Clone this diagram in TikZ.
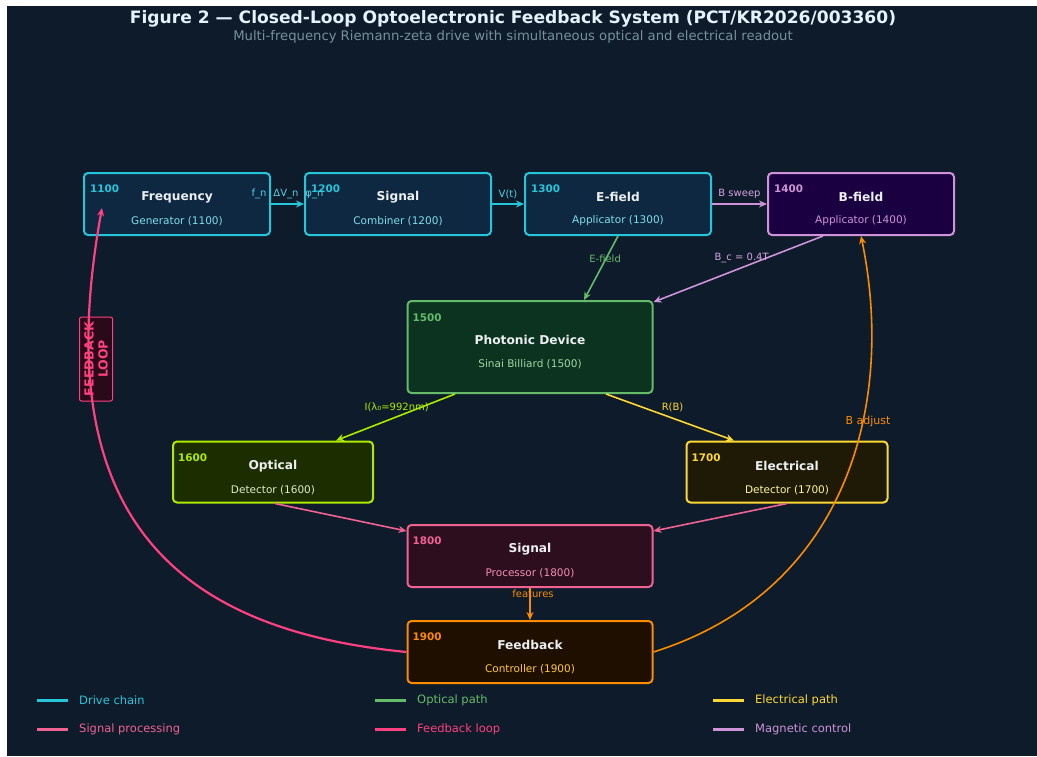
\documentclass[tikz,border=0pt]{standalone}
\usepackage{fontspec}
\setmainfont{DejaVu Sans}
\usetikzlibrary{arrows.meta}

\definecolor{bgnavy}{HTML}{0D1B2A}
\definecolor{titlewhite}{HTML}{E3F2FD}
\definecolor{subgrey}{HTML}{78909C}
\definecolor{boxwhite}{HTML}{ECEFF1}
\definecolor{drivecyan}{HTML}{26C6DA}
\definecolor{drivefill}{HTML}{0D2840}
\definecolor{drivesub}{HTML}{80DEEA}
\definecolor{magviolet}{HTML}{CE93D8}
\definecolor{magfill}{HTML}{1A0040}
\definecolor{optgreen}{HTML}{66BB6A}
\definecolor{devfill}{HTML}{0B3320}
\definecolor{devsub}{HTML}{A5D6A7}
\definecolor{optlime}{HTML}{AEEA00}
\definecolor{optfill}{HTML}{1C2E00}
\definecolor{optsub}{HTML}{DCEDC8}
\definecolor{elecyellow}{HTML}{FDD835}
\definecolor{elecfill}{HTML}{1E1A05}
\definecolor{elecsub}{HTML}{FFF59D}
\definecolor{procpink}{HTML}{F06292}
\definecolor{procfill}{HTML}{2C0E1E}
\definecolor{procsub}{HTML}{F48FB1}
\definecolor{ctrlorange}{HTML}{FB8C00}
\definecolor{ctrlfill}{HTML}{1E0F00}
\definecolor{ctrlsub}{HTML}{FFCA28}
\definecolor{looppink}{HTML}{FF4081}
\definecolor{loopfill}{HTML}{2A0A18}

\tikzset{
  blk/.style={draw, line width=2pt, rounded corners=4pt, inner sep=0pt},
  num/.style={anchor=west, inner sep=0pt, font=\fontsize{10.4}{12}\selectfont\bfseries},
  ttl/.style={inner sep=0pt, text=boxwhite, font=\fontsize{12.2}{14}\selectfont\bfseries},
  sub/.style={inner sep=0pt, font=\fontsize{10.5}{12}\selectfont},
  lbl/.style={inner sep=0pt, font=\fontsize{10}{12}\selectfont},
  link/.style={line width=1.6pt, -{Stealth[length=8pt,width=7pt]}},
  legline/.style={line width=3pt},
  legtxt/.style={anchor=west, inner sep=0pt, font=\fontsize{11.5}{13}\selectfont},
}

\begin{document}
\begin{tikzpicture}[x=1pt,y=-1pt]
  % Page and background
  \useasboundingbox (0,0) rectangle (1037,756);
  \fill[white] (0,0) rectangle (1037,756);
  \fill[bgnavy] (7,6) rectangle (1037,756);

  % Title
  \node[inner sep=0pt, text=titlewhite, font=\fontsize{17.1}{19}\selectfont\bfseries] (title) at (513,19)
    {Figure 2 — Closed-Loop Optoelectronic Feedback System (PCT/KR2026/003360)};
  \node[inner sep=0pt, text=subgrey, font=\fontsize{13.2}{15}\selectfont] (subtitle) at (513,37)
    {Multi-frequency Riemann-zeta drive with simultaneous optical and electrical readout};

  % Frequency generator
  \node[blk, draw=drivecyan, fill=drivefill, minimum width=186pt, minimum height=62pt] (freq) at (177,204) {};
  \node[num, text=drivecyan] (freq-n) at ([xshift=7pt,yshift=-17pt]freq.north west) {1100};
  \node[ttl] (freq-t) at ([yshift=7pt]freq.center) {Frequency};
  \node[sub, text=drivesub] (freq-s) at ([yshift=-17pt]freq.center) {Generator (1100)};

  % Signal combiner
  \node[blk, draw=drivecyan, fill=drivefill, minimum width=186pt, minimum height=62pt] (comb) at (398,204) {};
  \node[num, text=drivecyan] (comb-n) at ([xshift=7pt,yshift=-17pt]comb.north west) {1200};
  \node[ttl] (comb-t) at ([yshift=7pt]comb.center) {Signal};
  \node[sub, text=drivesub] (comb-s) at ([yshift=-17pt]comb.center) {Combiner (1200)};

  % E-field applicator
  \node[blk, draw=drivecyan, fill=drivefill, minimum width=186pt, minimum height=62pt] (efield) at (618,204) {};
  \node[num, text=drivecyan] (efield-n) at ([xshift=7pt,yshift=-17pt]efield.north west) {1300};
  \node[ttl] (efield-t) at ([yshift=7pt]efield.center) {E-field};
  \node[sub, text=drivesub] (efield-s) at ([yshift=-17pt]efield.center) {Applicator (1300)};

  % B-field applicator
  \node[blk, draw=magviolet, fill=magfill, minimum width=186pt, minimum height=62pt] (bfield) at (861,204) {};
  \node[num, text=magviolet] (bfield-n) at ([xshift=7pt,yshift=-17pt]bfield.north west) {1400};
  \node[ttl] (bfield-t) at ([yshift=7pt]bfield.center) {B-field};
  \node[sub, text=magviolet] (bfield-s) at ([yshift=-17pt]bfield.center) {Applicator (1400)};

  % Photonic device
  \node[blk, draw=optgreen, fill=devfill, minimum width=245pt, minimum height=92pt] (device) at (530,347) {};
  \node[num, text=optgreen] (device-n) at ([xshift=6pt,yshift=-18pt]device.north west) {1500};
  \node[ttl] (device-t) at ([yshift=7pt]device.center) {Photonic Device};
  \node[sub, text=devsub] (device-s) at ([yshift=-17pt]device.center) {Sinai Billiard (1500)};

  % Optical detector
  \node[blk, draw=optlime, fill=optfill, minimum width=200pt, minimum height=61pt] (optdet) at (273,472) {};
  \node[num, text=optlime] (optdet-n) at ([xshift=6pt,yshift=-17pt]optdet.north west) {1600};
  \node[ttl] (optdet-t) at ([yshift=6pt]optdet.center) {Optical};
  \node[sub, text=optsub] (optdet-s) at ([yshift=-18pt]optdet.center) {Detector (1600)};

  % Electrical detector
  \node[blk, draw=elecyellow, fill=elecfill, minimum width=201pt, minimum height=61pt] (elecdet) at (787,472) {};
  \node[num, text=elecyellow] (elecdet-n) at ([xshift=6pt,yshift=-17pt]elecdet.north west) {1700};
  \node[ttl] (elecdet-t) at ([yshift=6pt]elecdet.center) {Electrical};
  \node[sub, text=elecsub] (elecdet-s) at ([yshift=-18pt]elecdet.center) {Detector (1700)};

  % Signal processor
  \node[blk, draw=procpink, fill=procfill, minimum width=245pt, minimum height=62pt] (proc) at (530,556) {};
  \node[num, text=procpink] (proc-n) at ([xshift=6pt,yshift=-17pt]proc.north west) {1800};
  \node[ttl] (proc-t) at ([yshift=7pt]proc.center) {Signal};
  \node[sub, text=procsub] (proc-s) at ([yshift=-17pt]proc.center) {Processor (1800)};

  % Feedback controller
  \node[blk, draw=ctrlorange, fill=ctrlfill, minimum width=245pt, minimum height=62pt] (ctrl) at (530,652) {};
  \node[num, text=ctrlorange] (ctrl-n) at ([xshift=6pt,yshift=-17pt]ctrl.north west) {1900};
  \node[ttl] (ctrl-t) at ([yshift=7pt]ctrl.center) {Feedback};
  \node[sub, text=ctrlsub] (ctrl-s) at ([yshift=-17pt]ctrl.center) {Controller (1900)};

  % Loop tag
  \node[draw=looppink, fill=loopfill, line width=1pt, rounded corners=2pt, rotate=90,
        minimum width=84pt, minimum height=33pt, inner sep=1pt, align=center, text=looppink,
        font=\fontsize{12.5}{14}\selectfont\bfseries] (looptag) at (96,359) {FEEDBACK\\LOOP};

  % Drive chain
  \draw[link, drivecyan] (freq.east) -- (comb.west)
    node[lbl, midway, yshift=10pt, text=drivecyan!80] (lbl-fn) {f\_n\hspace{7pt}ΔV\_n\hspace{7pt}φ\_n};
  \draw[link, drivecyan] (comb.east) -- (efield.west)
    node[lbl, midway, yshift=10pt, text=drivecyan!80] (lbl-vt) {V(t)};
  \draw[link, magviolet] (efield.east) -- (bfield.west)
    node[lbl, midway, yshift=10pt, text=magviolet!85] (lbl-sweep) {B sweep};

  % Fields into the device
  \draw[link, optgreen] (efield.south) -- ([xshift=54pt]device.north)
    node[lbl, pos=0.35, xshift=-1pt, text=optgreen] (lbl-ef) {E-field};
  \draw[link, magviolet] ([xshift=-38pt]bfield.south) -- ([yshift=-2pt]device.north east)
    node[lbl, pos=0.48, yshift=10pt, text=magviolet!85] (lbl-bc) {B\_c = 0.4T};

  % Readout
  \draw[link, optlime] ([xshift=-75pt]device.south) -- ([xshift=63pt]optdet.north)
    node[lbl, pos=0.49, yshift=9pt, text=optlime] (lbl-opt) {I(λ₀=992nm)};
  \draw[link, elecyellow] ([xshift=76pt]device.south) -- ([xshift=-53pt]elecdet.north)
    node[lbl, pos=0.52, yshift=11pt, text=elecyellow] (lbl-rb) {R(B)};

  % Signal processing
  \draw[link, procpink] ([xshift=2pt]optdet.south) -- ([yshift=-7pt]proc.north west);
  \draw[link, procpink] (elecdet.south) -- ([yshift=-7pt]proc.north east);
  \draw[link, ctrlorange] (proc.south) -- (ctrl.north)
    node[lbl, pos=0.18, xshift=3pt, text=ctrlorange] (lbl-feat) {features};

  % Feedback curves
  \draw[link, ctrlorange] (ctrl.east) .. controls (850,590) and (895,400) .. (bfield.south);
  \node[lbl, text=ctrlorange, font=\fontsize{11}{13}\selectfont] (lbl-badj) at (868,421) {B adjust};
  \draw[link, looppink, line width=2.2pt] (ctrl.west) .. controls (180,630) and (45,520) .. ([xshift=-75pt,yshift=28pt]freq.south);

  % Legend
  \draw[legline, drivecyan] (37,700) -- (68,700);
  \node[legtxt, text=drivecyan] (leg-drive) at (79,700) {Drive chain};
  \draw[legline, optgreen] (375,700) -- (406,700);
  \node[legtxt, text=optgreen] (leg-opt) at (417,700) {Optical path};
  \draw[legline, elecyellow] (713,700) -- (744,700);
  \node[legtxt, text=elecyellow] (leg-elec) at (755,700) {Electrical path};
  \draw[legline, procpink] (37,729) -- (68,729);
  \node[legtxt, text=procpink] (leg-proc) at (79,729) {Signal processing};
  \draw[legline, looppink] (375,729) -- (406,729);
  \node[legtxt, text=looppink] (leg-loop) at (417,729) {Feedback loop};
  \draw[legline, magviolet] (713,729) -- (744,729);
  \node[legtxt, text=magviolet] (leg-mag) at (755,729) {Magnetic control};
\end{tikzpicture}
\end{document}
